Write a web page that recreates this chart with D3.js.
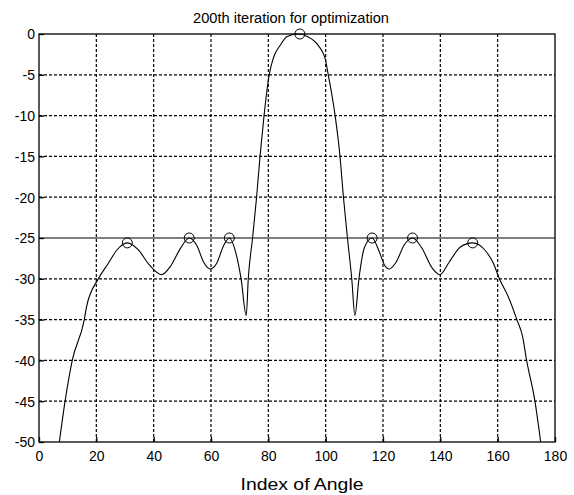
<!DOCTYPE html>
<html>
<head>
<meta charset="utf-8">
<script src="https://cdn.jsdelivr.net/npm/d3@7"></script>
<style>
  body { margin: 0; background: #fff; }
  svg { display: block; }
</style>
</head>
<body>
<div id="chart"></div>
<script>
// curve points: [index of angle, level]
const angleIdx = [7.1, 9.1, 11.6, 15.8, 16.6, 20.7, 24.2, 27.1, 30.8, 34.5, 38.5, 42.8, 46, 49.3, 52.4, 55, 57.5, 59.7, 62, 64.3,
  66.4, 68.5, 70.5, 72.3, 73, 74.5, 75.9, 77.1, 78.5, 80.3, 81.7, 84.1, 86.6, 90.5, 93.6, 97.4, 99.8, 100.9, 103.3, 105,
  106.2, 107.6, 109.1, 110.2, 111.6, 113.5, 116.2, 118.5, 120.5, 122.2, 124.5, 127.5, 130.3, 133.5, 137, 139.8, 143, 147, 151.3, 155.6,
  158.5, 160.6, 163.7, 166.7, 168.7, 170.1, 173, 175]
const level = [-50, -45, -40, -35, -33.4, -30, -28.1, -26.5, -25.6, -26.4, -28.3, -29.5, -28.4, -26.3, -25, -25.9, -28, -28.8, -28.1, -26,
  -25, -26.6, -30, -34.5, -30, -25, -20, -15, -10, -5, -3, -1.4, -0.3, 0, -0.3, -1.4, -3, -5, -10, -15,
  -20, -25, -30, -34.5, -30, -26.2, -25, -26.5, -28.3, -28.8, -28, -25.8, -25, -26.2, -28.6, -29.5, -28, -26.1, -25.6, -26.5,
  -28.1, -30, -32.2, -35, -37.1, -40, -45, -50]
// marked peaks
const peakIdx = [30.8, 52.4, 66.4, 91, 116.2, 130.3, 151.3]
const peakLevel = [-25.6, -25, -25, 0, -25, -25, -25.6]
const threshold = -25
const xTicks = [0, 20, 40, 60, 80, 100, 120, 140, 160, 180]
const yTicks = [0, -5, -10, -15, -20, -25, -30, -35, -40, -45, -50]
const titleText = '200th iteration for optimization'
const xLabel = 'Index of Angle'

const dims = {
  width: 574,
  height: 495,
  margin: { top: 34, right: 19, bottom: 53, left: 39 },
}
const font = '"Liberation Sans", Arial, sans-serif'

const svg = d3.select('#chart')
  .append('svg')
  .attr('width', dims.width)
  .attr('height', dims.height)

const x = d3.scaleLinear()
  .domain([0, 180])
  .range([dims.margin.left, dims.width - dims.margin.right])
const y = d3.scaleLinear()
  .domain([-50, 0])
  .range([dims.height - dims.margin.bottom, dims.margin.top])

// grid
const grid = svg.append('g')
  .attr('stroke', '#000')
  .attr('stroke-width', 1.2)
  .attr('stroke-dasharray', '3,2')
grid.selectAll('.vg')
  .data(xTicks.slice(1, -1))
  .join('line')
  .attr('x1', d => x(d)).attr('x2', d => x(d))
  .attr('y1', y(0)).attr('y2', y(-50))
grid.selectAll('.hg')
  .data(yTicks.slice(1, -1).filter(d => d !== threshold))
  .join('line')
  .attr('x1', x(0)).attr('x2', x(180))
  .attr('y1', d => y(d)).attr('y2', d => y(d))

// threshold line
svg.append('line')
  .attr('x1', x(0)).attr('x2', x(180))
  .attr('y1', y(threshold)).attr('y2', y(threshold))
  .attr('stroke', '#000')
  .attr('stroke-width', 1.2)

// axes (MATLAB style, inward ticks)
const xAxis = svg.append('g')
  .attr('transform', `translate(0,${y(-50)})`)
  .call(d3.axisBottom(x).tickValues(xTicks).tickSize(-5).tickPadding(9))
const yAxis = svg.append('g')
  .attr('transform', `translate(${x(0)},0)`)
  .call(d3.axisLeft(y).tickValues(yTicks).tickSize(-5).tickPadding(4).tickFormat(d => String(d)))
;[xAxis, yAxis].forEach(g => {
  g.select('.domain').remove()
  g.selectAll('line').attr('stroke', '#000').attr('stroke-width', 1.3)
  g.selectAll('text')
    .attr('fill', '#000')
    .style('font-family', font)
    .style('font-size', '14px')
})
yAxis.selectAll('text').attr('dy', '0.35em')

// box
svg.append('rect')
  .attr('x', x(0)).attr('y', y(0))
  .attr('width', x(180) - x(0))
  .attr('height', y(-50) - y(0))
  .attr('fill', 'none')
  .attr('stroke', '#000')
  .attr('stroke-width', 1.3)

// curve
svg.append('clipPath').attr('id', 'plotClip')
  .append('rect')
  .attr('x', x(0)).attr('y', y(0) - 6)
  .attr('width', x(180) - x(0))
  .attr('height', y(-50) - y(0) + 6)

const pts = angleIdx.map((a, i) => [a, level[i]])
const line = d3.line()
  .x(d => x(d[0]))
  .y(d => y(d[1]))
  .curve(d3.curveMonotoneX)
svg.append('path')
  .datum(pts)
  .attr('clip-path', 'url(#plotClip)')
  .attr('d', line)
  .attr('fill', 'none')
  .attr('stroke', '#000')
  .attr('stroke-width', 1.1)

svg.append('g')
  .selectAll('circle')
  .data(peakIdx.map((p, i) => [p, peakLevel[i]]))
  .join('circle')
  .attr('cx', d => x(d[0]))
  .attr('cy', d => y(d[1]))
  .attr('r', 5)
  .attr('fill', 'none')
  .attr('stroke', '#000')
  .attr('stroke-width', 1)

// labels
svg.append('text')
  .attr('x', 291)
  .attr('y', 23)
  .attr('text-anchor', 'middle')
  .attr('textLength', 196)
  .attr('lengthAdjust', 'spacingAndGlyphs')
  .style('font-family', font)
  .style('font-size', '14px')
  .text(titleText)

svg.append('text')
  .attr('x', 302)
  .attr('y', 490)
  .attr('text-anchor', 'middle')
  .attr('textLength', 123)
  .attr('lengthAdjust', 'spacingAndGlyphs')
  .style('font-family', font)
  .style('font-size', '17px')
  .text(xLabel)
</script>
</body>
</html>
